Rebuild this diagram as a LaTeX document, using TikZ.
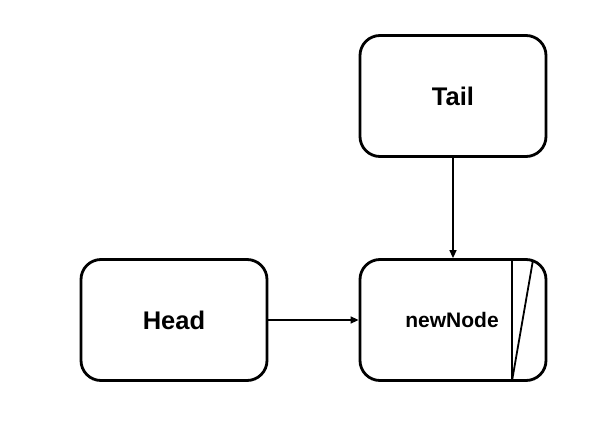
\documentclass[tikz,border=0pt]{standalone}
\usepackage{fontspec}
\setmainfont{Liberation Sans}
\usetikzlibrary{arrows.meta,calc}
\begin{document}
\begin{tikzpicture}[x=1pt,y=-1pt,
  box/.style={draw=black,line width=2.8pt,rounded corners=20pt,minimum width=186pt,minimum height=121pt,inner sep=0pt,font=\bfseries\fontsize{25.5}{30}\selectfont},
  arr/.style={line width=1.4pt,-{Triangle[length=8pt,width=7pt]}},
  part/.style={line width=1.8pt}]
\useasboundingbox (0,0) rectangle (616,426);
\node[box] (tail) at (453,96) {Tail};
\node[box] (head) at (174,320) {Head};
\node[box,font=\bfseries\fontsize{21}{25}\selectfont] (nn) at (453,320) {\hspace*{-2pt}newNode};
\coordinate (p1) at (512,259);
\coordinate (p2) at (512,381);
\coordinate (p3) at (533,260);
\draw[part] (p1) -- (p2) -- (p3);
\draw[arr] (head.east) -- (nn.west);
\draw[arr] (tail.south) -- (nn.north);
\end{tikzpicture}
\end{document}
